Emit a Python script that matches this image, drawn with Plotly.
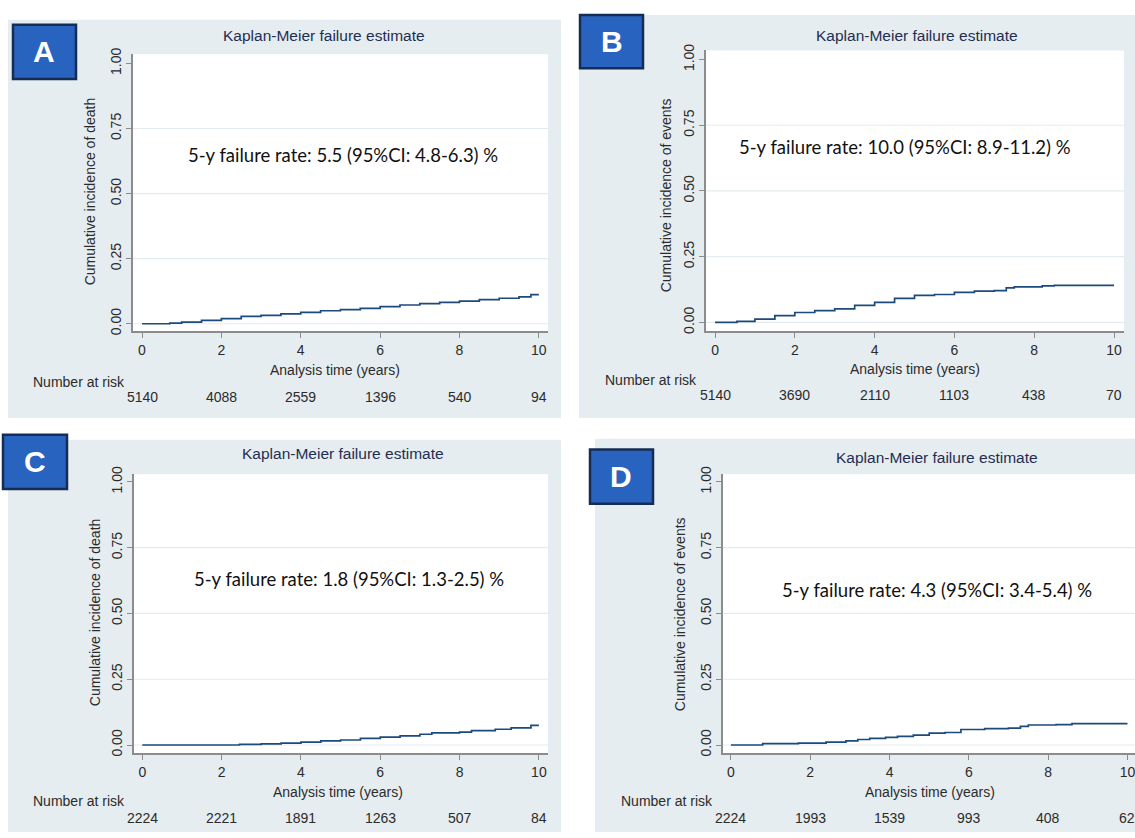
import plotly.graph_objects as go

W, H = 1135, 838

# ---------------- data ----------------
panel_letters = ["A", "B", "C", "D"]
y_titles = ["Cumulative incidence of death", "Cumulative incidence of events",
            "Cumulative incidence of death", "Cumulative incidence of events"]
rate_texts = ["5-y failure rate: 5.5 (95%CI: 4.8-6.3) %",
              "5-y failure rate: 10.0 (95%CI: 8.9-11.2) %",
              "5-y failure rate: 1.8 (95%CI: 1.3-2.5) %",
              "5-y failure rate: 4.3 (95%CI: 3.4-5.4) %"]

time_A = [0, 0.7, 1.0, 1.5, 2.0, 2.5, 3.0, 3.5, 4.0, 4.5, 5.0, 5.5, 6.0, 6.5, 7.0, 7.5, 8.0, 8.5, 9.0, 9.5, 9.8, 10.0]
inc_A = [0, 0.0025, 0.006, 0.013, 0.020, 0.028, 0.032, 0.038, 0.044, 0.050, 0.054, 0.059, 0.066, 0.072, 0.077, 0.082, 0.087, 0.093, 0.098, 0.103, 0.112, 0.112]

time_B = [0, 0.55, 1.0, 1.5, 2.0, 2.5, 3.0, 3.5, 4.0, 4.5, 5.0, 5.5, 6.0, 6.5, 7.0, 7.3, 7.5, 8.2, 8.5, 10.0]
inc_B = [0, 0.004, 0.0125, 0.026, 0.0375, 0.045, 0.051, 0.065, 0.076, 0.091, 0.1025, 0.106, 0.114, 0.119, 0.121, 0.131, 0.135, 0.139, 0.141, 0.141]

time_C = [0, 2.45, 3.0, 3.5, 4.0, 4.5, 5.0, 5.5, 6.0, 6.5, 7.0, 7.3, 8.0, 8.3, 8.9, 9.3, 9.8, 10.0]
inc_C = [0, 0.0025, 0.004, 0.0075, 0.011, 0.016, 0.019, 0.025, 0.030, 0.035, 0.041, 0.046, 0.049, 0.055, 0.060, 0.065, 0.075, 0.075]

time_D = [0, 0.8, 1.7, 2.4, 2.9, 3.2, 3.5, 3.9, 4.2, 4.6, 5.0, 5.4, 5.8, 6.4, 7.0, 7.3, 7.5, 8.2, 8.6, 10.0]
inc_D = [0, 0.005, 0.0075, 0.011, 0.016, 0.021, 0.025, 0.029, 0.0325, 0.0375, 0.045, 0.0475, 0.059, 0.0625, 0.064, 0.071, 0.076, 0.0775, 0.081, 0.081]

risk_times = [0, 2, 4, 6, 8, 10]
risk_A = [5140, 4088, 2559, 1396, 540, 94]
risk_B = [5140, 3690, 2110, 1103, 438, 70]
risk_C = [2224, 2221, 1891, 1263, 507, 84]
risk_D = [2224, 1993, 1539, 993, 408, 62]

x_ticks = [0, 2, 4, 6, 8, 10]
y_ticks = [0, 0.25, 0.5, 0.75, 1.0]
grid_vals = [0, 0.25, 0.5, 0.75]

times = [time_A, time_B, time_C, time_D]
incs = [inc_A, inc_B, inc_C, inc_D]
risks = [risk_A, risk_B, risk_C, risk_D]

# ---------------- layout geometry (pixels) ----------------
geo = [
    dict(l=133, r=548, t=47, b=328, xr=[-0.227, 10.23], yr=[-0.029, 1.035],
         bg=(8, 561, 12, 416), box=(13, 76, 17, 72),
         title=(324, 28), ytitle=(90, 186), xtitle=(335, 367),
         nar=(31, 379), nums_y=395, rate=(1.1, 0.647)),
    dict(l=706, r=1124, t=43, b=328, xr=[-0.226, 10.25], yr=[-0.034, 1.035],
         bg=(579, 1135, 7, 416), box=(580, 643, 7, 61),
         title=(917, 28), ytitle=(666, 190), xtitle=(915, 366),
         nar=(603, 377), nums_y=393, rate=(0.55, 0.668)),
    dict(l=134, r=548, t=473, b=756, xr=[-0.21, 10.23], yr=[-0.031, 1.029],
         bg=(8, 561, 438, 836), box=(3, 67, 433, 488),
         title=(343, 452), ytitle=(95, 613), xtitle=(338, 795),
         nar=(31, 805), nums_y=822, rate=(1.26, 0.63)),
    dict(l=723, r=1135, t=473, b=756, xr=[-0.2, 10.19], yr=[-0.031, 1.029],
         bg=(595, 1135, 437, 836), box=(590, 653, 448, 503),
         title=(937, 456), ytitle=(680, 615), xtitle=(930, 795),
         nar=(619, 805), nums_y=822, rate=(1.24, 0.59)),
]

FONT = "Liberation Sans, Arial, sans-serif"
PANEL_BG = "#e6edf1"
LINE_COL = "#1c4a7c"
AX_COL = "#8c8c8c"
TXT = "#2b2b2b"

def fx(x):
    return x / W

def fy(y):
    return 1 - y / H

fig = go.Figure()
layout = dict(width=W, height=H, margin=dict(l=0, r=0, t=0, b=0),
              paper_bgcolor="white", plot_bgcolor="white", showlegend=False)
shapes = []
annotations = []

for i, g in enumerate(geo):
    n = "" if i == 0 else str(i + 1)
    xa, ya = "x" + n, "y" + n
    fig.add_trace(go.Scatter(x=times[i], y=incs[i], mode="lines", line_shape="hv",
                             line=dict(color=LINE_COL, width=1.7),
                             xaxis=xa, yaxis=ya, hoverinfo="skip"))
    layout["xaxis" + n] = dict(domain=[fx(g["l"]), fx(g["r"])], anchor=ya, range=g["xr"],
                               tickvals=x_ticks, ticks="outside", ticklen=5, tickcolor=AX_COL,
                               showline=True, linecolor=AX_COL, linewidth=1.5, showgrid=False,
                               zeroline=False, tickfont=dict(family=FONT, size=14, color=TXT),
                               ticklabeloverflow="allow", fixedrange=True)
    layout["yaxis" + n] = dict(domain=[fy(g["b"]), fy(g["t"])], anchor=xa, range=g["yr"],
                               tickvals=y_ticks, tickformat=".2f", tickangle=-90,
                               ticks="outside", ticklen=5, tickcolor=AX_COL,
                               showline=True, linecolor=AX_COL, linewidth=1.5, showgrid=False,
                               zeroline=False, tickfont=dict(family=FONT, size=14, color=TXT),
                               fixedrange=True)
    x0, x1, y0, y1 = g["bg"]
    shapes.append(dict(type="rect", xref="paper", yref="paper", x0=fx(x0), x1=fx(x1),
                       y0=fy(y1), y1=fy(y0), fillcolor=PANEL_BG, line=dict(width=0), layer="below"))
    shapes.append(dict(type="rect", xref=xa + " domain", yref=ya + " domain", x0=0, x1=1,
                       y0=0, y1=1, fillcolor="white", line=dict(width=0), layer="below"))
    for gv in grid_vals:
        shapes.append(dict(type="line", xref=xa + " domain", yref=ya, x0=0, x1=1, y0=gv, y1=gv,
                           line=dict(color="#e4ebef", width=1.2), layer="below"))
    bx0, bx1, by0, by1 = g["box"]
    shapes.append(dict(type="rect", xref="paper", yref="paper", x0=fx(bx0), x1=fx(bx1),
                       y0=fy(by1), y1=fy(by0), fillcolor="#2963c0",
                       line=dict(color="#172c55", width=2.5), layer="above"))
    annotations.append(dict(text="<b>%s</b>" % panel_letters[i], xref="paper", yref="paper",
                            x=fx((bx0 + bx1) / 2), y=fy((by0 + by1) / 2), showarrow=False,
                            xanchor="center", yanchor="middle",
                            font=dict(family=FONT, size=30, color="white")))
    annotations.append(dict(text="Kaplan-Meier failure estimate", xref="paper", yref="paper",
                            x=fx(g["title"][0]), y=fy(g["title"][1]), showarrow=False,
                            xanchor="center", yanchor="middle",
                            font=dict(family=FONT, size=15.5, color="#1f2d52")))
    annotations.append(dict(text=y_titles[i], xref="paper", yref="paper", textangle=-90,
                            x=fx(g["ytitle"][0]), y=fy(g["ytitle"][1]), showarrow=False,
                            xanchor="center", yanchor="middle",
                            font=dict(family=FONT, size=14, color=TXT)))
    annotations.append(dict(text="Analysis time (years)", xref="paper", yref="paper",
                            x=fx(g["xtitle"][0]), y=fy(g["xtitle"][1]), showarrow=False,
                            xanchor="center", yanchor="middle",
                            font=dict(family=FONT, size=14, color=TXT)))
    annotations.append(dict(text="Number at risk", xref="paper", yref="paper",
                            x=fx(g["nar"][0]), y=fy(g["nar"][1]), showarrow=False,
                            xanchor="left", yanchor="middle",
                            font=dict(family=FONT, size=14, color=TXT)))
    for t, v in zip(risk_times, risks[i]):
        annotations.append(dict(text=str(v), xref=xa, yref="paper", x=t, y=fy(g["nums_y"]),
                                showarrow=False, xanchor="center", yanchor="middle",
                                font=dict(family=FONT, size=14, color=TXT)))
    annotations.append(dict(text=rate_texts[i], xref=xa, yref=ya, x=g["rate"][0], y=g["rate"][1],
                            showarrow=False, xanchor="left", yanchor="middle",
                            font=dict(family="Lato, Noto Sans, sans-serif", size=18.5, color="#111111")))

layout["shapes"] = shapes
layout["annotations"] = annotations
fig.update_layout(**layout)
fig.write_html("out.html", config={"displayModeBar": False},
               post_script="document.body.style.margin='0';document.body.style.overflow='hidden';")
